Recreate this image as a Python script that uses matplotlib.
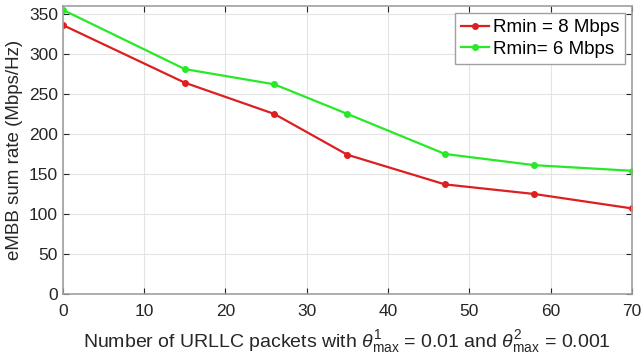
import matplotlib
matplotlib.use("Agg")
import matplotlib.pyplot as plt

# number of URLLC packets
packets = [0, 15, 26, 35, 47, 58, 70]
# eMBB sum rate (Mbps/Hz)
rate_8 = [336, 264, 225, 174, 137, 125, 107]
rate_6 = [355, 281, 262, 225, 175, 161, 154]

plt.rcParams['font.family'] = ['Liberation Sans', 'DejaVu Sans']
plt.rcParams['mathtext.fontset'] = 'custom'
plt.rcParams['mathtext.it'] = 'Liberation Sans:italic'
plt.rcParams['mathtext.rm'] = 'Liberation Sans'

fig = plt.figure(figsize=(6.41, 3.64), dpi=100)
ax = fig.add_axes([0.098, 0.192, 0.888, 0.792])

ax.plot(packets, rate_8, color='#dd1f1f', marker='o', markersize=4, linewidth=1.6, label='Rmin = 8 Mbps')
ax.plot(packets, rate_6, color='#28e828', marker='o', markersize=4, linewidth=1.6, label='Rmin= 6 Mbps')

ax.set_xlim(0, 70)
ax.set_ylim(0, 360)
ax.set_xticks(range(0, 71, 10))
ax.set_yticks(range(0, 351, 50))
ax.grid(True, color='#e3e3e3', linewidth=0.8)
ax.tick_params(direction='in', top=True, right=True, labelsize=12.5, colors='#262626', length=4)
ax.tick_params(axis='x', pad=7)
for s in ax.spines.values():
    s.set_color('#a0a0a0')
    s.set_linewidth(1.2)

ax.set_ylabel('eMBB sum rate (Mbps/Hz)', fontsize=13.5, color='#262626')
ax.set_xlabel(r'Number of URLLC packets with $\theta^{1}_{\mathrm{max}}$ = 0.01 and $\theta^{2}_{\mathrm{max}}$ = 0.001',
              fontsize=14, color='#262626', labelpad=7)

leg = ax.legend(loc='upper right', fontsize=13.5, fancybox=False, framealpha=1,
                edgecolor='#a0a0a0', handlelength=1.5, handletextpad=0.2,
                borderaxespad=0.4, borderpad=0.3, labelspacing=0.25)

fig.savefig('out.png', dpi=100)
